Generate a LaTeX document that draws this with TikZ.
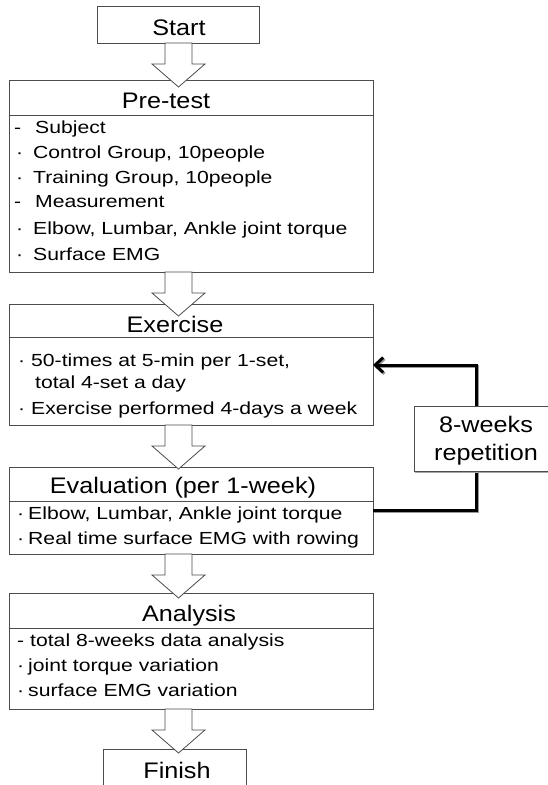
\documentclass[tikz,border=0pt]{standalone}
\usepackage{fontspec}
\setmainfont{Liberation Sans}[FakeStretch=1.12]
\newfontfamily\bodyfont{Liberation Sans}[FakeStretch=1.21]
\usetikzlibrary{calc,arrows.meta}
\tikzset{
  box/.style={draw=black!70, line width=0.8pt, fill=white, anchor=north west, inner sep=0pt, outer sep=0pt},
  ttl/.style={anchor=base, inner sep=0pt, font=\fontsize{22.5}{24}\selectfont},
  ln/.style={anchor=base west, inner sep=0pt, font=\bodyfont\fontsize{17.5}{20}\selectfont},
  blockarr/.style={draw=black!70, line width=0.8pt, fill=white, line join=miter},
  fbline/.style={line width=3pt, -{Straight Barb[length=8pt,width=15pt]}},
}
\newcommand\mk[2]{\makebox[#1pt][l]{#2}}
\newcommand\barr[2]{%
  \draw[blockarr] ($(#1.south -| axis)+(-13.5,0)$) -- ++(0,21) -- ++(-13,0)
    -- ($(#1.south -| axis)+(0,44)$) -- ($(#1.south -| axis)+(26.5,21)$)
    -- ++(-13,0) -- ++(0,-21) -- cycle;}
\begin{document}
\begin{tikzpicture}[x=1pt,y=-1pt]
\useasboundingbox (0,0) rectangle (548,785);
\clip (0,0) rectangle (548,785);
\coordinate (axis) at (178.5,0);
\coordinate (fbx) at (476,440);

% boxes
\node[box, minimum width=162, minimum height=37] (start) at (97,6) {};
\node[box, minimum width=364, minimum height=35] (pret) at (9,80) {};
\node[box, minimum width=364, minimum height=157] (preb) at (9,115) {};
\node[box, minimum width=364, minimum height=33] (ext) at (9,304) {};
\node[box, minimum width=364, minimum height=88] (exb) at (9,337) {};
\node[box, minimum width=364, minimum height=34] (evt) at (9,467) {};
\node[box, minimum width=364, minimum height=53] (evb) at (9,501) {};
\node[box, minimum width=364, minimum height=35] (ant) at (9,593) {};
\node[box, minimum width=364, minimum height=81] (anb) at (9,628) {};
\node[box, minimum width=143, minimum height=60] (fin) at (103,749) {};

% block arrows
\barr{start}{pret}
\barr{preb}{ext}
\barr{exb}{evt}
\barr{evb}{ant}
\barr{anb}{fin}

% feedback loop
\draw[fbline, black!40, transform canvas={shift={(1.3,1.3)}}]
  ($(evb.north east)+(0,9)$) -| (fbx) |- ($(exb.north east)+(0,28)$);
\draw[fbline, black]
  ($(evb.north east)+(0,9)$) -| (fbx) |- ($(exb.north east)+(0,28)$);
\draw[black!35, line width=1.2pt] (414.5,472.5) -- (548,472.5);
\node[box, minimum width=160, minimum height=65] (rep) at (414,406) {};
\node[ttl] (rep1) at (486,432) {8-weeks};
\node[ttl] (rep2) at (486,460) {repetition};

% titles
\node[ttl] (tstart) at (179,35) {Start};
\node[ttl] (tpre) at (166,108) {Pre-test};
\node[ttl] (tex) at (175,332) {Exercise};
\node[ttl] (tev) at (183,493) {Evaluation (per 1-week)};
\node[ttl] (tan) at (189,621) {Analysis};
\node[ttl] (tfin) at (177,778) {Finish};

% pre-test lines
\node[ln] (p1) at (14,133) {\mk{21}{-}Subject};
\node[ln] (p2) at (16,158) {\mk{17}{·}Control Group, 10people};
\node[ln] (p3) at (16,183) {\mk{17}{·}Training Group, 10people};
\node[ln] (p4) at (14,207) {\mk{21}{-}Measurement};
\node[ln] (p5) at (16,234) {\mk{17}{·}Elbow, Lumbar, Ankle joint torque};
\node[ln] (p6) at (16,260) {\mk{17}{·}Surface EMG};

% exercise lines
\node[ln] (e1) at (18,366) {\mk{13}{·}50-times at 5-min per 1-set,};
\node[ln] (e2) at (35,388) {total 4-set a day};
\node[ln] (e3) at (18,414) {\mk{13}{·}Exercise performed 4-days a week};

% evaluation lines
\node[ln] (v1) at (17,519) {\mk{11}{·}Elbow, Lumbar, Ankle joint torque};
\node[ln] (v2) at (17,544) {\mk{11}{·}Real time surface EMG with rowing};

% analysis lines
\node[ln] (a1) at (17,646) {\mk{13}{-}total 8-weeks data analysis};
\node[ln] (a2) at (17,671) {\mk{11}{·}joint torque variation};
\node[ln] (a3) at (17,696) {\mk{11}{·}surface EMG variation};
\end{tikzpicture}
\end{document}
